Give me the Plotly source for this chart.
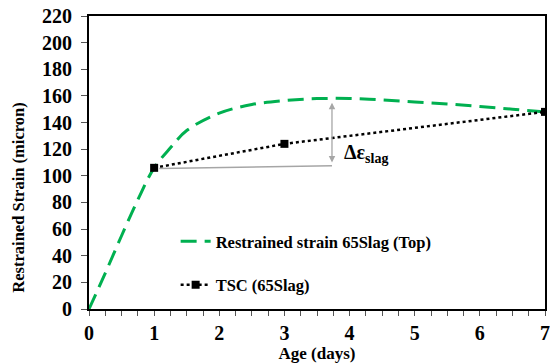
import plotly.graph_objects as go

# Data
age_curve = [0, 0.25, 0.5, 0.75, 1.0, 1.25, 1.5, 2.0, 2.5, 3.0, 3.5, 4.0, 4.5, 5.0, 5.5, 6.0, 6.5, 7.0]
strain_curve = [0, 27, 55, 82, 106, 121, 134, 147, 153.5, 156.5, 158, 158, 157, 155.5, 154, 152, 150, 148]
age_tsc = [1, 3, 7]
strain_tsc = [106, 124, 148]
x_ticks = [0, 1, 2, 3, 4, 5, 6, 7]
y_ticks = [0, 20, 40, 60, 80, 100, 120, 140, 160, 180, 200, 220]

FONT = "Liberation Serif"

fig = go.Figure()
fig.add_trace(go.Scatter(
    x=age_curve, y=strain_curve, mode="lines", line_shape="spline",
    name="Restrained strain 65Slag (Top)", legendgroup="a",
    line=dict(color="#00B050", width=3, dash="16px,8px"),
))
fig.add_trace(go.Scatter(
    x=age_tsc, y=strain_tsc, mode="lines+markers",
    name="TSC (65Slag)", legendgroup="b",
    line=dict(color="black", width=2.5, dash="dot"),
    marker=dict(symbol="square", size=8, color="black"),
))

# Delta annotation
fig.add_shape(type="line", x0=1.08, y0=105.5, x1=3.73, y1=107.5,
              line=dict(color="#A6A6A6", width=1.5))
fig.add_annotation(x=3.73, y=110, ax=3.73, ay=156, axref="x", ayref="y",
                   xref="x", yref="y", text="", showarrow=True,
                   arrowhead=2, startarrowhead=2, arrowside="end+start",
                   arrowsize=1, arrowwidth=1.3, arrowcolor="#A6A6A6")
fig.add_annotation(x=3.88, y=117, xref="x", yref="y", xanchor="left", yanchor="middle",
                   text="Δε<sub>slag</sub>", showarrow=False,
                   font=dict(family=FONT, size=20, color="black", weight="bold"))

bold = dict(family=FONT, color="black", weight="bold")

# Y axis title (placed as in the reference, below centre)
fig.add_annotation(x=-0.1535, y=0.38, xref="paper", yref="paper",
                   xanchor="center", yanchor="middle", textangle=-90,
                   text="Restrained Strain (micron)", showarrow=False,
                   font=dict(size=16.5, **bold))

fig.update_layout(
    width=550, height=363,
    margin=dict(l=89, r=5, t=16, b=54, autoexpand=False),
    paper_bgcolor="white", plot_bgcolor="white",
    font=dict(family=FONT, size=17, color="black", weight="bold"),
    showlegend=True,
    legend=dict(x=0.19, y=0.29, xanchor="left", yanchor="top",
                bgcolor="rgba(0,0,0,0)", tracegroupgap=19,
                font=dict(size=16.5, **bold),
                itemwidth=30),
    xaxis=dict(range=[0, 7], tickvals=x_ticks, automargin=False,
               ticklabeloverflow="allow",
               ticks="outside", ticklen=5, tickwidth=1, tickcolor="#555",
               minor=dict(dtick=0.25, ticks="outside", ticklen=5, tickcolor="#555"),
               showline=True, linecolor="black", linewidth=2, mirror=True,
               showgrid=False, zeroline=False,
               title=dict(text="Age (days)", standoff=1, font=dict(size=17, **bold)),
               tickfont=dict(size=20, **bold)),
    yaxis=dict(range=[0, 220], tickvals=y_ticks, automargin=False,
               ticks="outside", ticklen=6, tickwidth=1, tickcolor="#555",
               ticklabelstandoff=5,
               showline=True, linecolor="black", linewidth=2, mirror=True,
               showgrid=False, zeroline=False,
               tickfont=dict(size=20, **bold)),
)

fig.write_html("out.html")
